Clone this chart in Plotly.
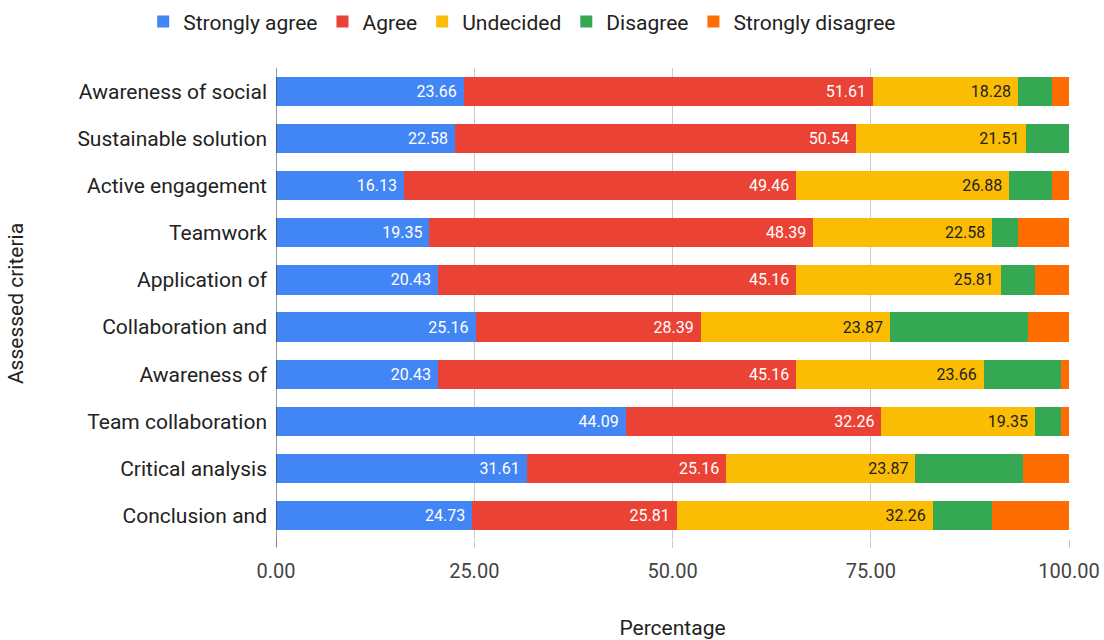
import plotly.graph_objects as go

categories = ["Awareness of social", "Sustainable solution", "Active engagement", "Teamwork",
              "Application of", "Collaboration and", "Awareness of", "Team collaboration",
              "Critical analysis", "Conclusion and"]
strongly_agree = [23.66, 22.58, 16.13, 19.35, 20.43, 25.16, 20.43, 44.09, 31.61, 24.73]
agree = [51.61, 50.54, 49.46, 48.39, 45.16, 28.39, 45.16, 32.26, 25.16, 25.81]
undecided = [18.28, 21.51, 26.88, 22.58, 25.81, 23.87, 23.66, 19.35, 23.87, 32.26]
disagree = [4.30, 5.38, 5.38, 3.23, 4.30, 17.42, 9.68, 3.23, 13.55, 7.53]
strongly_disagree = [2.15, 0.0, 2.15, 6.45, 4.30, 5.16, 1.08, 1.08, 5.81, 9.68]
x_ticks = [0, 25, 50, 75, 100]

series = [
    ("Strongly agree", strongly_agree, "#4285F4", "white", True),
    ("Agree", agree, "#EA4335", "white", True),
    ("Undecided", undecided, "#FBBC04", "#222222", True),
    ("Disagree", disagree, "#34A853", "#222222", False),
    ("Strongly disagree", strongly_disagree, "#FF6D01", "#222222", False),
]

fig = go.Figure()
for name, vals, color, tcol, show in series:
    fig.add_trace(go.Bar(
        y=categories, x=vals, name=name, orientation="h",
        marker=dict(color=color, line=dict(width=0)),
        text=[f"{v:.2f}\u00a0" for v in vals] if show else None,
        textposition="inside" if show else "none",
        insidetextanchor="end",
        textfont=dict(color=tcol, size=16, family="Roboto"),
        constraintext="none",
        hoverinfo="x+y+name",
    ))

fig.update_layout(
    barmode="stack",
    bargap=0.38,
    width=1104, height=640,
    margin=dict(l=276, r=35, t=68, b=101),
    paper_bgcolor="white", plot_bgcolor="white",
    font=dict(family="Roboto", size=21, color="#222222"),
    legend=dict(orientation="h", xref="container", yref="container",
                x=0.473, y=0.998, xanchor="center", yanchor="top",
                font=dict(size=21, color="#222222"), itemwidth=30,
                traceorder="normal"),
    xaxis=dict(range=[0, 100], tickvals=x_ticks, ticktext=[f"{t:.2f}" for t in x_ticks],
               showgrid=True, gridcolor="#cccccc", gridwidth=1,
               ticks="outside", ticklen=8, tickcolor="#cccccc",
               ticklabelstandoff=6, automargin=False,
               zeroline=False, showline=False,
               tickfont=dict(size=20, color="#444444"),
               title=dict(text="Percentage", font=dict(size=21, color="#222222"), standoff=44)),
    yaxis=dict(autorange="reversed", showgrid=False, ticks="", ticklabelstandoff=8,
               automargin=False,
               tickfont=dict(size=21, color="#222222"),
               title=dict(text="Assessed criteria", font=dict(size=21, color="#222222"), standoff=48)),
)
fig.add_shape(type="line", xref="x", yref="paper", x0=0, x1=0, y0=-0.017, y1=1,
              line=dict(color="#333333", width=1))
fig.write_html("out.html")
